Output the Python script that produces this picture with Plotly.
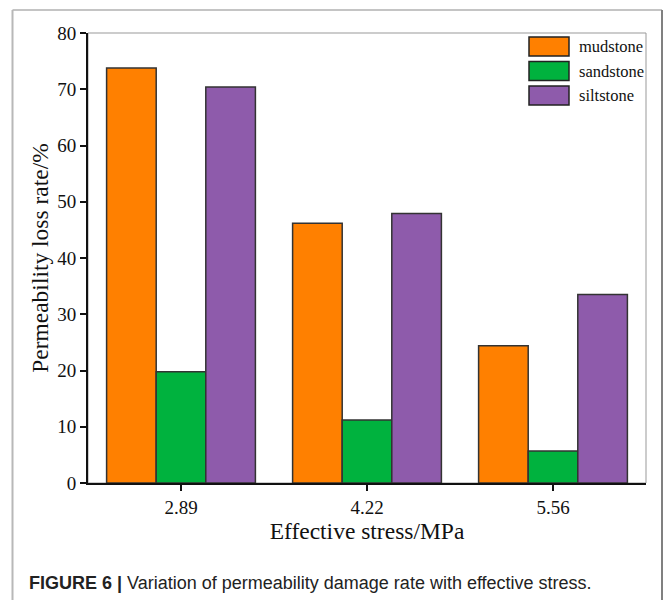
import plotly.graph_objects as go

categories = ["2.89", "4.22", "5.56"]
series_names = ["mudstone", "sandstone", "siltstone"]
mudstone = [73.8, 46.2, 24.4]
sandstone = [19.8, 11.2, 5.7]
siltstone = [70.4, 47.9, 33.5]
colors = ["#FF8000", "#00B23E", "#8E5BAB"]

W, H = 665, 600
L, R, T, B = 88, 19, 33, 117
PW, PH = W - L - R, H - T - B

def px(x):
    return (x - L) / PW

def py(y):
    return (H - B - y) / PH

fig = go.Figure()
for name, vals, c in zip(series_names, [mudstone, sandstone, siltstone], colors):
    fig.add_trace(go.Bar(x=categories, y=vals, name=name, marker=dict(color=c, line=dict(color="#333333", width=1.5)),
                         showlegend=False))

shapes = []
shapes.append(dict(type="rect", xref="paper", yref="paper", x0=0, x1=1, y0=0, y1=1,
                   line=dict(color="#999999", width=1), layer="below"))
shapes.append(dict(type="line", xref="paper", yref="paper", x0=px(12.5), x1=px(662), y0=py(10), y1=py(10),
                   line=dict(color="#b0b0b0", width=1.5)))
shapes.append(dict(type="line", xref="paper", yref="paper", x0=px(12.5), x1=px(12.5), y0=py(10), y1=py(605),
                   line=dict(color="#b8b8b8", width=2)))
shapes.append(dict(type="line", xref="paper", yref="paper", x0=px(662), x1=px(662), y0=py(10), y1=py(605),
                   line=dict(color="#808080", width=2)))

annotations = []
for i, (name, c) in enumerate(zip(series_names, colors)):
    y0 = 37 + i * 24.5
    shapes.append(dict(type="rect", xref="paper", yref="paper", x0=px(529), x1=px(569), y0=py(y0), y1=py(y0 + 19),
                       fillcolor=c, line=dict(color="#222222", width=1.5)))
    annotations.append(dict(xref="paper", yref="paper", x=px(577), y=py(y0 + 9.5), text=name, showarrow=False,
                            xanchor="left", yanchor="middle",
                            font=dict(family="Liberation Serif", size=16.5, color="#111111")))

annotations.append(dict(xref="paper", yref="paper", x=px(27), y=py(583),
                        text="<b>FIGURE 6 |</b> Variation of permeability damage rate with effective stress.",
                        showarrow=False, xanchor="left", yanchor="middle",
                        font=dict(family="Liberation Sans", size=18, color="#222222")))

fig.update_layout(
    width=W, height=H,
    margin=dict(l=L, r=R, t=T, b=B),
    paper_bgcolor="white", plot_bgcolor="white",
    barmode="group", bargap=0.2, bargroupgap=0,
    shapes=shapes, annotations=annotations,
    font=dict(family="Liberation Serif", color="#111111"),
)
fig.update_xaxes(
    type="category", range=[-0.5, 2.5],
    showline=True, linecolor="#111111", linewidth=2,
    ticks="outside", ticklen=6, tickwidth=1.5, tickcolor="#111111",
    tickfont=dict(family="Liberation Serif", size=19),
    title=dict(text="Effective stress/MPa", font=dict(family="Liberation Serif", size=23.5), standoff=6),
    showgrid=False, zeroline=False,
)
fig.update_yaxes(
    range=[0, 80], dtick=10,
    showline=True, linecolor="#111111", linewidth=2,
    ticks="outside", ticklen=6, tickwidth=1.5, tickcolor="#111111",
    tickfont=dict(family="Liberation Serif", size=19),
    title=dict(text="Permeability loss rate/%", font=dict(family="Liberation Serif", size=23.5), standoff=2),
    showgrid=False, zeroline=False,
)

fig.write_html("out.html")
